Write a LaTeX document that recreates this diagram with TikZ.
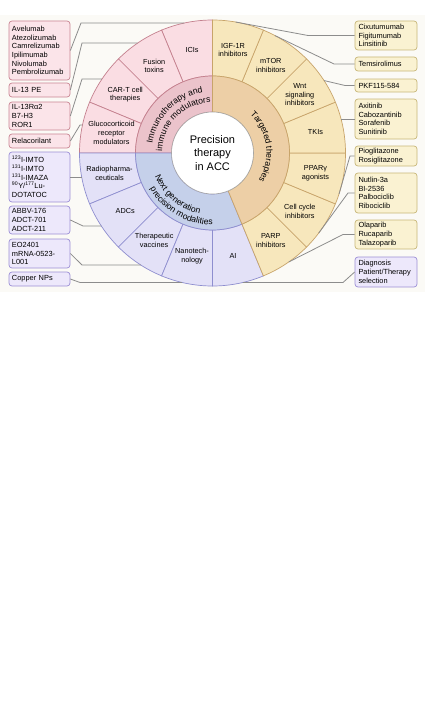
\documentclass[tikz,border=0pt]{standalone}
\usepackage{fontspec}
\setmainfont{Liberation Sans}
\usetikzlibrary{decorations.text,calc}
\definecolor{bgpanel}{HTML}{FBFAF6}
\definecolor{pinkO}{HTML}{FADDE3}
\definecolor{pinkM}{HTML}{EBC3CB}
\definecolor{pinkB}{HTML}{C4808E}
\definecolor{tanO}{HTML}{F7E7BC}
\definecolor{tanM}{HTML}{EDCFA6}
\definecolor{tanB}{HTML}{C8A46A}
\definecolor{bluO}{HTML}{E3E1F7}
\definecolor{bluM}{HTML}{C5D0EA}
\definecolor{bluB}{HTML}{8E8ECF}
\definecolor{pboxF}{HTML}{FBE4E9}
\definecolor{pboxB}{HTML}{C98593}
\definecolor{tboxF}{HTML}{FAF2D2}
\definecolor{tboxB}{HTML}{C8B778}
\definecolor{lboxF}{HTML}{EDE8FB}
\definecolor{lboxB}{HTML}{9C8FD6}
\definecolor{connC}{HTML}{8C8C8C}
\newcommand\ringfont{\fontsize{8.6}{9}\selectfont}
\newcommand\mysector[5]{%
  \path[#1] ($(C)+(#2:#4)$) arc[start angle=#2,end angle=#3,radius=#4]
    -- ($(C)+(#3:#5)$) arc[start angle=#3,end angle=#2,radius=#5] -- cycle;}
\begin{document}
\begin{tikzpicture}[x=1pt,y=1pt,
  seclabel/.style={align=center,font=\fontsize{7.3}{8.6}\selectfont,inner sep=0pt},
  boxbase/.style={rectangle,rounded corners=3pt,line width=0.7pt,inner sep=0pt,
     text width=55pt,align=left,font=\fontsize{7.4}{8.7}\selectfont},
  lbox/.style={boxbase,minimum width=61pt},
  rbox/.style={boxbase,minimum width=62pt},
  pbox/.style={lbox,draw=pboxB,fill=pboxF},
  vbox/.style={lbox,draw=lboxB,fill=lboxF},
  tbox/.style={rbox,draw=tboxB,fill=tboxF},
  ubox/.style={rbox,draw=lboxB,fill=lboxF},
  conn/.style={draw=connC,line width=0.8pt},
  ringtext/.style={decorate,decoration={text along path,text align=center}}
]
\useasboundingbox (0,0) rectangle (425,-709);
\fill[white] (0,0) rectangle (425,-709);
\fill[bgpanel] (0,-15) rectangle (425,-292);
\coordinate (C) at (212.5,-153);

% outer ring sectors
\foreach \a in {90,112.5,135,157.5}{
  \mysector{fill=pinkO,draw=pinkB,line width=0.7pt}{\a}{\a+22.5}{77}{133}}
\foreach \a in {180,202.5,225,247.5,270}{
  \mysector{fill=bluO,draw=bluB,line width=0.7pt}{\a}{\a+22.5}{77}{133}}
\foreach \a in {-67.5,-45,-22.5,0,22.5,45,67.5}{
  \mysector{fill=tanO,draw=tanB,line width=0.7pt}{\a}{\a+22.5}{77}{133}}
% middle ring
\mysector{fill=pinkM,draw=pinkB,line width=0.7pt}{90}{180}{41}{77}
\mysector{fill=bluM,draw=bluB,line width=0.7pt}{180}{292.5}{41}{77}
\mysector{fill=tanM,draw=tanB,line width=0.7pt}{-67.5}{90}{41}{77}
% centre
\node[circle,draw=black!35,line width=0.6pt,fill=white,minimum size=82pt,inner sep=0pt,
  align=center,font=\fontsize{11}{13.3}\selectfont] (centre) at (C) {Precision\\therapy\\in ACC};

% ring texts
\path[ringtext,decoration={text={|\ringfont|Immunotherapy and}}]
  ($(C)+(190:61)$) arc[start angle=190,end angle=80,radius=61];
\path[ringtext,decoration={text={|\ringfont|immune modulators}}]
  ($(C)+(190:50.5)$) arc[start angle=190,end angle=80,radius=50.5];
\path[ringtext,decoration={text={|\ringfont|Targeted therapies}}]
  ($(C)+(70:54)$) arc[start angle=70,end angle=-55,radius=54];
\path[ringtext,decoration={text={|\ringfont|Next generation}}]
  ($(C)+(170:62)$) arc[start angle=170,end angle=290,radius=62];
\path[ringtext,decoration={text={|\ringfont|precision modalities}}]
  ($(C)+(180:72)$) arc[start angle=180,end angle=300,radius=72];

% sector labels
\node[seclabel] (s1) at ($(C)+(101.25:105)$) {ICIs};
\node[seclabel] (s2) at ($(C)+(123.75:105)$) {Fusion\\toxins};
\node[seclabel] (s3) at ($(C)+(146.25:105)$) {CAR-T cell\\therapies};
\node[seclabel] (s4) at ($(C)+(168.75:103)$) {Glucocorticoid\\receptor\\modulators};
\node[seclabel] (s5) at ($(C)+(191.25:105)$) {Radiopharma-\\ceuticals};
\node[seclabel] (s6) at ($(C)+(213.75:105)$) {ADCs};
\node[seclabel] (s7) at ($(C)+(236.25:105)$) {Therapeutic\\vaccines};
\node[seclabel] (s8) at ($(C)+(258.75:105)$) {Nanotech-\\nology};
\node[seclabel] (s9) at ($(C)+(281.25:105)$) {AI};
\node[seclabel] (s10) at ($(C)+(-56.25:105)$) {PARP\\inhibitors};
\node[seclabel] (s11) at ($(C)+(-33.75:105)$) {Cell cycle\\inhibitors};
\node[seclabel] (s12) at ($(C)+(-11.25:105)$) {PPARγ\\agonists};
\node[seclabel] (s13) at ($(C)+(11.25:105)$) {TKIs};
\node[seclabel] (s14) at ($(C)+(33.75:105)$) {Wnt\\signaling\\inhibitors};
\node[seclabel] (s15) at ($(C)+(56.25:105)$) {mTOR\\inhibitors};
\node[seclabel] (s16) at ($(C)+(78.75:105)$) {IGF-1R\\inhibitors};

% boxes left
\node[pbox,minimum height=59pt] (b1) at (39.5,-50.5) {Avelumab\\Atezolizumab\\Camrelizumab\\Ipilimumab\\Nivolumab\\Pembrolizumab};
\node[pbox,minimum height=14pt] (b2) at (39.5,-90) {IL-13 PE};
\node[pbox,minimum height=28pt] (b3) at (39.5,-116) {IL-13Rα2\\B7-H3\\ROR1};
\node[pbox,minimum height=14pt] (b4) at (39.5,-141) {Relacorilant};
\node[vbox,minimum height=50pt] (b5) at (39.5,-177) {\textsuperscript{123}I-IMTO\\\textsuperscript{131}I-IMTO\\\textsuperscript{131}I-IMAZA\\\textsuperscript{90}Y/\textsuperscript{177}Lu-\\DOTATOC};
\node[vbox,minimum height=28pt] (b6) at (39.5,-220) {ABBV-176\\ADCT-701\\ADCT-211};
\node[vbox,minimum height=29pt] (b7) at (39.5,-253.5) {EO2401\\mRNA-0523-\\L001};
\node[vbox,minimum height=14pt] (b8) at (39.5,-279) {Copper NPs};
% boxes right
\node[tbox,minimum height=29pt] (b9) at (386,-35.5) {Cixutumumab\\Figitumumab\\Linsitinib};
\node[tbox,minimum height=14pt] (b10) at (386,-64) {Temsirolimus};
\node[tbox,minimum height=13pt] (b11) at (386,-85.5) {PKF115-584};
\node[tbox,minimum height=40pt] (b12) at (386,-119) {Axitinib\\Cabozantinib\\Sorafenib\\Sunitinib};
\node[tbox,minimum height=20pt] (b13) at (386,-156) {Pioglitazone\\Rosiglitazone};
\node[tbox,minimum height=40pt] (b14) at (386,-193) {Nutlin-3a\\BI-2536\\Palbociclib\\Ribociclib};
\node[tbox,minimum height=29pt] (b15) at (386,-234.5) {Olaparib\\Rucaparib\\Talazoparib};
\node[ubox,minimum height=30pt] (b16) at (386,-272) {Diagnosis\\Patient/Therapy\\selection};

% connector end points on the outer circle
\coordinate (e1) at (184.4,-23);
\coordinate (e2) at (137.7,-43);
\coordinate (e3) at (102.0,-79);
\coordinate (e4) at (82.5,-125);
\coordinate (e5) at (81.7,-177);
\coordinate (e6) at (101.3,-226);
\coordinate (e7) at (140.8,-265);
\coordinate (e8) at (182.2,-282.5);
\coordinate (e9) at ($(C)+(80:133)$);
\coordinate (e10) at ($(C)+(62:133)$);
\coordinate (e11) at ($(C)+(33:133)$);
\coordinate (e12) at (341.1,-119);
\coordinate (e13) at ($(C)+(-18:133)$);
\coordinate (e14) at ($(C)+(-37:133)$);
\coordinate (e15) at ($(C)+(-55:133)$);
\coordinate (e16) at (242.8,-282.5);

\draw[conn] (b1.east) -- (81,-23) -- (e1);
\draw[conn] (b2.east) -- (82,-43) -- (e2);
\draw[conn] (b3.east) -- (82,-79) -- (e3);
\draw[conn] (b4.east) -- (80,-125) -- (e4);
\draw[conn] (b5.east) -- (e5);
\draw[conn] (b6.east) -- (83,-226) -- (e6);
\draw[conn] (b7.east) -- (82,-265) -- (e7);
\draw[conn] (b8.east) -- (80,-282.5) -- (e8);
\draw[conn] (b9.west) -- (308,-35.5) -- (e9);
\draw[conn] (b10.west) -- (334,-64) -- (e10);
\draw[conn] (b11.west) -- (345,-85.5) -- (e11);
\draw[conn] (b12.west) -- (e12);
\draw[conn] (b13.west) -- (350,-156) -- (e13);
\draw[conn] (b14.west) -- (348,-193) -- (e14);
\draw[conn] (b15.west) -- (343,-234.5) -- (e15);
\draw[conn] (b16.west) -- (343,-282.5) -- (e16);
\end{tikzpicture}
\end{document}
